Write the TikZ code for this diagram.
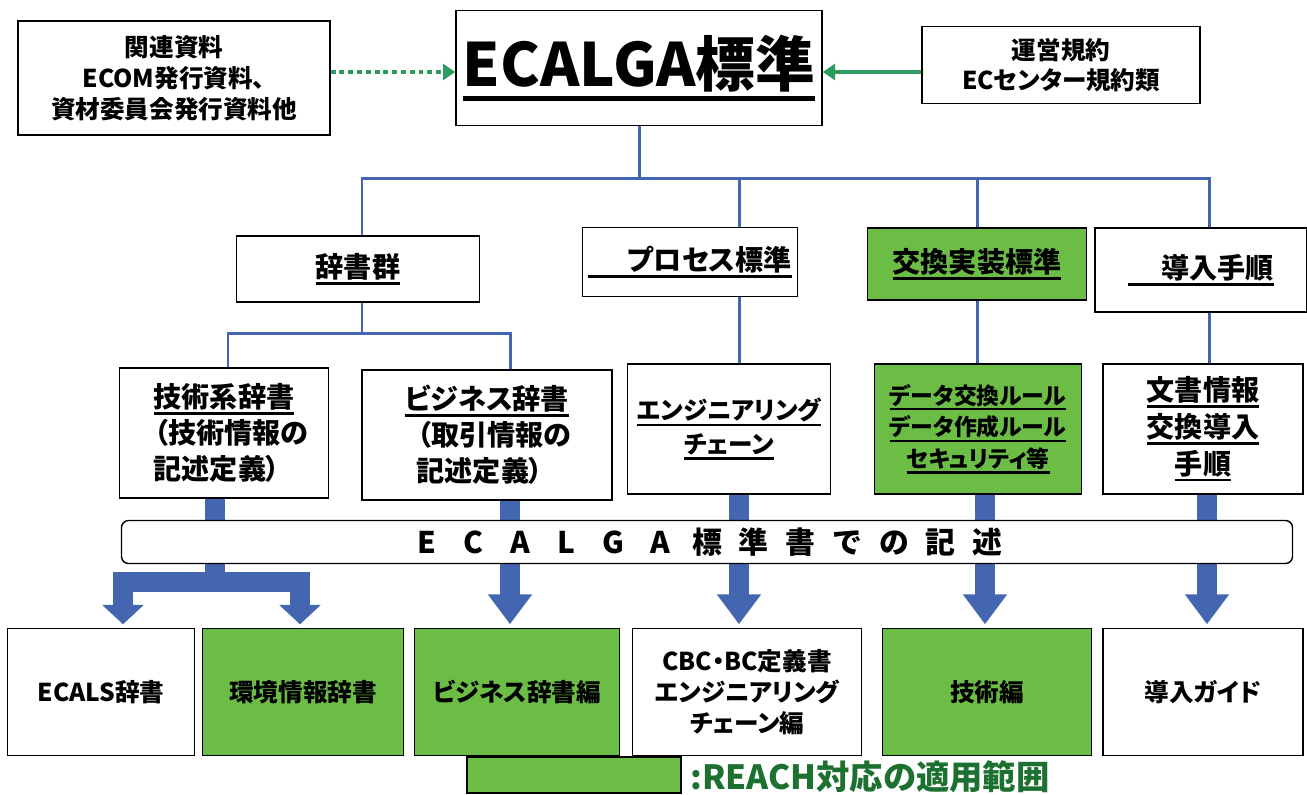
\documentclass[tikz,border=0pt]{standalone}
\usepackage{fontspec}
\setmainfont{Noto Sans CJK JP}[BoldFont={Noto Sans CJK JP Black},RawFeature=+palt]
\usetikzlibrary{arrows.meta}
\definecolor{reachgreen}{RGB}{108,189,69}
\definecolor{linkblue}{RGB}{68,102,176}
\definecolor{refgreen}{RGB}{46,155,96}
\definecolor{keygreen}{RGB}{28,112,48}
\newcommand{\ul}[2][1.4pt]{\leavevmode\vtop{\setbox0\hbox{#2}\dp0=0.16em\box0\hrule height #1}}
\tikzset{
  box/.style={draw, line width=0.8pt, align=center, inner sep=0pt, font=\bfseries\fontsize{14}{17.5}\selectfont},
  sz/.style 2 args={minimum width=#1*0.02cm, minimum height=#2*0.02cm},
  reach/.style={fill=reachgreen},
  head/.style={font=\bfseries\fontsize{16}{20}\selectfont},
  mid/.style={font=\bfseries\fontsize{16}{20.5}\selectfont},
  tree/.style={draw=linkblue, line width=1.7pt},
  fat/.style={draw=linkblue, line width=11pt},
  fatarrow/.style={fat, shorten >=2pt, -{Triangle[width=24pt,length=17pt]}},
  forkarrow/.style={fat, shorten >=2pt, -{Triangle[width=23pt,length=11pt]}}
}
\begin{document}
\begin{tikzpicture}[x=0.02cm,y=-0.02cm]
\useasboundingbox (0,0) rectangle (1307,794);

\node[box,sz={312}{114}] (rel) at (174,78) {関連資料\\ECOM発行資料、\\資材委員会発行資料他};
\node[box,sz={366}{115},font=\bfseries\fontsize{34}{40}\selectfont] (std) at (639,68) {\ul[2.8pt]{ECALGA標準}};
\node[box,sz={278}{77}] (rule) at (1061,65) {運営規約\\ECセンター規約類};
\coordinate (ay) at (0,72);
\draw[refgreen,line width=2.3pt,dash pattern=on 2.8pt off 2.2pt,-{Triangle[width=9pt,length=7pt]}] (rel.east |- ay) -- (std.west |- ay);
\draw[refgreen,line width=2.3pt,-{Triangle[width=9pt,length=7pt]}] (rule.west |- ay) -- (std.east |- ay);

\node[box,sz={243}{66},head] (dic) at (358,269) {\ul{辞書群}};
\node[box,sz={215}{69},head] (proc) at (690,262) {\ul{\hspace{1.4em}プロセス標準}};
\node[box,reach,sz={219}{72},head] (impl) at (977,264) {\ul{交換実装標準}};
\node[box,sz={212}{84},head] (intro) at (1201,270) {\ul{\hspace{1.2em}導入手順}};

\draw[tree] (std.south) -- ++(0,52) coordinate (hub);
\draw[tree] (hub) -| (dic.north -| 362,0);
\draw[tree] (hub) -| (proc.north -| 739,0);
\draw[tree] (hub) -| (impl.north);
\draw[tree] (hub) -| (intro.north -| 1209,0);

\node[box,sz={209}{130},mid] (tech) at (224,433) {\ul{技術系辞書}\\\hspace*{0.5em}（技術情報の\\記述定義）\hspace*{0.5em}};
\node[box,sz={250}{130},mid] (biz) at (487,435) {\ul{ビジネス辞書}\\\hspace*{0.5em}（取引情報の\\記述定義）\hspace*{0.5em}};
\node[box,sz={203}{130},font=\bfseries\fontsize{14}{19}\selectfont] (eng) at (729,429) {\ul{エンジニアリング}\\\ul{チェーン}};
\node[box,reach,sz={207}{130},font=\bfseries\fontsize{13}{18}\selectfont] (xrule) at (978,429) {\ul{データ交換ルール}\\\ul{データ作成ルール}\\\ul{セキュリティ等}};
\node[box,sz={200}{130},font=\bfseries\fontsize{16}{21}\selectfont] (doc) at (1203,429) {\ul{文書情報}\\\ul{交換導入}\\\ul{手順}};

\draw[tree] (dic.south -| 362,0) -- ++(0,31) coordinate (dhub);
\draw[tree] (dhub) -| (tech.north -| 228,0);
\draw[tree] (dhub) -| (biz.north -| 510,0);
\draw[tree] (proc.south -| 739,0) -- (eng.north -| 739,0);
\draw[tree] (impl.south) -- (xrule.north -| impl.south);
\draw[tree] (intro.south -| 1209,0) -- (doc.north -| 1209,0);

\node[box,sz={187}{127}] (ecals) at (101,692) {ECALS辞書};
\node[box,reach,sz={201}{127}] (env) at (303,692) {環境情報辞書};
\node[box,reach,sz={205}{127}] (bized) at (517,692) {ビジネス辞書編};
\node[box,sz={229}{127}] (cbc) at (747,692) {CBC・BC定義書\\エンジニアリング\\チェーン編};
\node[box,reach,sz={209}{127}] (teched) at (987,692) {技術編};
\node[box,sz={200}{127}] (guide) at (1203,692) {導入ガイド};

\draw[fat] (tech.south -| 215,0) -- (215,582) coordinate (fork);
\draw[forkarrow] (fork) -| (ecals.north -| 123,0);
\draw[forkarrow] (fork) -| (env.north -| 300,0);
\draw[fatarrow] (biz.south -| 510,0) -- (bized.north -| 510,0);
\draw[fatarrow] (eng.south -| 739,0) -- (cbc.north -| 739,0);
\draw[fatarrow] (xrule.south -| 985,0) -- (teched.north -| 985,0);
\draw[fatarrow] (doc.south -| 1207,0) -- (guide.north -| 1207,0);

\node[box,fill=white,rounded corners=4pt,sz={1171}{43},font=\bfseries\fontsize{17}{20}\selectfont] (bar) at (707,542) {\foreach \c in {E,C,A,L,G,A,標,準,書,で,の,記,述}{\makebox[26.6pt]{\c}}};

\node[draw,reach,line width=0.8pt,sz={214}{36}] (key) at (574,775) {};
\node[anchor=west,inner sep=0pt,text=keygreen,font=\bfseries\fontsize{19}{22}\selectfont] (keytxt) at (690,777) {:REACH対応の適用範囲};
\end{tikzpicture}
\end{document}
